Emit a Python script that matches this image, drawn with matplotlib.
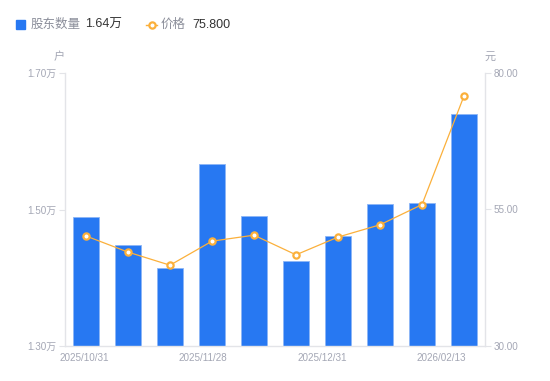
import matplotlib
matplotlib.use('Agg')
import matplotlib.pyplot as plt
from matplotlib.lines import Line2D
import numpy as np

plt.rcParams['font.family'] = ['Liberation Sans', 'Noto Sans CJK SC', 'DejaVu Sans']

# data
holders = [1.489, 1.448, 1.415, 1.566, 1.490, 1.425, 1.461, 1.508, 1.510, 1.640]   # 万户
price = [50.15, 47.2, 44.8, 49.2, 50.3, 46.7, 49.95, 52.2, 55.9, 75.8]            # 元
date_labels = ['2025/10/31', '2025/11/28', '2025/12/31', '2026/02/13']
left_ticks = [1.30, 1.50, 1.70]
right_ticks = [30, 55, 80]

BLUE = '#2778f2'
ORANGE = '#fbb03b'
GRAY = '#a3a6b4'
AXIS = '#e3e4e8'

fig = plt.figure(figsize=(5.5, 3.81), dpi=100)
ax = fig.add_axes([65/550, 1 - 346/381, 420/550, 273/381])
ax2 = ax.twinx()

x = np.arange(len(holders))
ax.bar(x, holders, width=0.6, color=BLUE, edgecolor='#8db6f6', linewidth=0.6, zorder=2)
ax.set_xlim(-0.5, len(holders) - 0.5)
ax.set_ylim(1.30, 1.70)
ax.set_yticks(left_ticks)
ax.set_yticklabels([f'{v:.2f}万' for v in left_ticks])

ax2.plot(x, price, color=ORANGE, lw=0.9, marker='o', ms=4.5, mfc='white',
         mec=ORANGE, mew=1.6, zorder=3)
ax2.set_ylim(30, 80)
ax2.set_yticks(right_ticks)
ax2.set_yticklabels([f'{v:.2f}' for v in right_ticks])

# date labels spread evenly under the axis
tick_pos = np.linspace(-0.05, 8.45, len(date_labels))
ax.set_xticks(tick_pos)
ax.set_xticklabels(date_labels)

for a in (ax, ax2):
    for s in a.spines.values():
        s.set_visible(False)
ax.spines['left'].set_visible(True)
ax.spines['bottom'].set_visible(True)
ax2.spines['right'].set_visible(True)
for s in (ax.spines['left'], ax.spines['bottom'], ax2.spines['right']):
    s.set_color(AXIS)
    s.set_linewidth(1)

ax.tick_params(axis='y', colors=AXIS, labelcolor=GRAY, labelsize=7.1, length=4, pad=2)
ax2.tick_params(axis='y', colors=AXIS, labelcolor=GRAY, labelsize=7.1, length=4, pad=2)
ax.tick_params(axis='x', length=0, labelcolor=GRAY, labelsize=7.1, pad=5)

# axis units
fig.text(59/550, 1 - 57/381, '户', ha='center', va='center', fontsize=8, color=GRAY)
fig.text(490/550, 1 - 57/381, '元', ha='center', va='center', fontsize=8, color=GRAY)

# legend row
fig.patches.append(plt.Rectangle((16/550, 1 - 29/381), 9/550, 9/381, transform=fig.transFigure,
                                 color=BLUE, figure=fig))
fig.text(31/550, 1 - 24.5/381, '股东数量', ha='left', va='center', fontsize=9, color='#8b8e9a')
fig.text(85/550, 1 - 24.5/381, f'{holders[-1]:.2f}万', ha='left', va='center', fontsize=9, color='#333333')
fig.lines.append(Line2D([146/550, 157/550], [1 - 24.5/381] * 2, transform=fig.transFigure,
                        color=ORANGE, lw=1))
fig.lines.append(Line2D([151.5/550], [1 - 24.5/381], transform=fig.transFigure,
                        color=ORANGE, marker='o', ms=4.5, mfc='white', mec=ORANGE, mew=1.6))
fig.text(161/550, 1 - 24.5/381, '价格', ha='left', va='center', fontsize=9, color='#8b8e9a')
fig.text(192/550, 1 - 24.5/381, f'{price[-1]:.3f}', ha='left', va='center', fontsize=9, color='#333333')

fig.savefig('out.png', dpi=100, facecolor='white')
